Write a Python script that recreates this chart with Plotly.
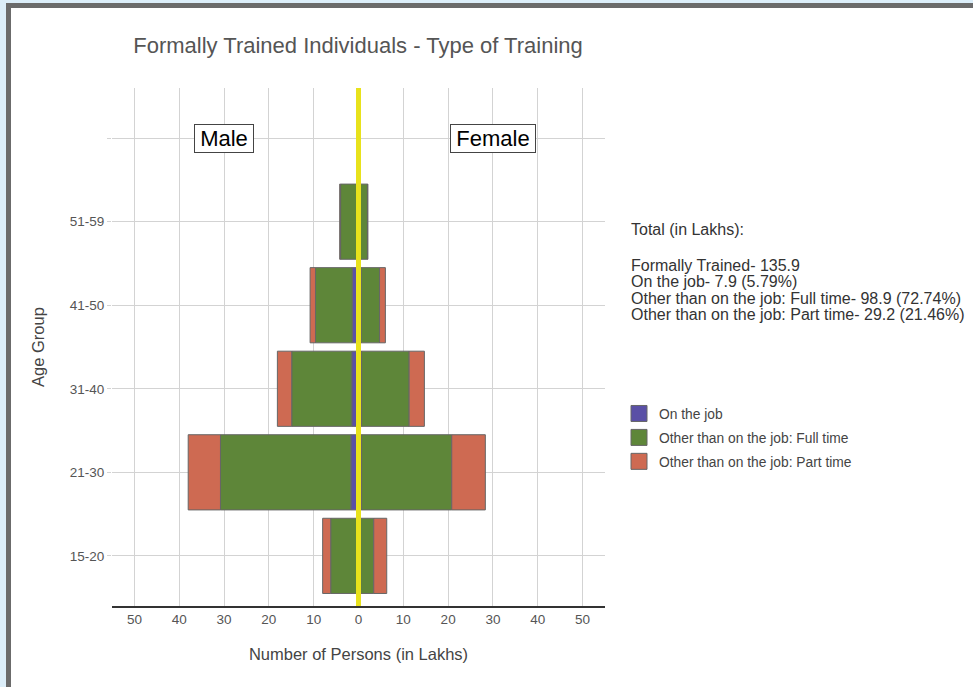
import plotly.graph_objects as go

# ---------------- data ----------------
age_groups = ["15-20", "21-30", "31-40", "41-50", "51-59"]
top_blank = " "

male_on_job = [0.3, 1.7, 1.5, 1.4, 0.2]
male_full_time = [5.9, 29.1, 13.4, 8.2, 3.8]
male_part_time = [1.8, 7.2, 3.2, 1.2, 0.2]

female_on_job = [0.5, 0.7, 0.7, 0.6, 0.4]
female_full_time = [2.9, 20.1, 10.6, 4.1, 1.6]
female_part_time = [2.9, 7.5, 3.4, 1.3, 0.1]

series_names = ["On the job", "Other than on the job: Full time", "Other than on the job: Part time"]
series_colors = ["#5A50A6", "#5E8639", "#CE6A52"]

x_tick_values = [-50, -40, -30, -20, -10, 0, 10, 20, 30, 40, 50]
x_tick_labels = ["50", "40", "30", "20", "10", "0", "10", "20", "30", "40", "50"]

summary_lines = [
    "Total (in Lakhs):",
    "Formally Trained- 135.9",
    "On the job- 7.9 (5.79%)",
    "Other than on the job: Full time- 98.9 (72.74%)",
    "Other than on the job: Part time- 29.2 (21.46%)",
]

# ---------------- layout geometry ----------------
W, H = 973, 687
ML, MR, MT, MB = 112, 368, 88, 81
PW, PH = W - ML - MR, H - MT - MB


def px_x(px):
    return (px - ML) / PW


def px_y(py):
    return (H - MB - py) / PH


FONT = "Liberation Sans, Arial, sans-serif"

fig = go.Figure()

male_series = [male_on_job, male_full_time, male_part_time]
female_series = [female_on_job, female_full_time, female_part_time]

for i, name in enumerate(series_names):
    fig.add_trace(go.Bar(
        y=age_groups, x=[-v for v in male_series[i]], orientation="h",
        name=name, legendgroup=name, showlegend=False,
        marker=dict(color=series_colors[i], line=dict(color="#666666", width=1)),
        customdata=male_series[i], hovertemplate="Male %{y}: %{customdata}<extra>" + name + "</extra>",
    ))
for i, name in enumerate(series_names):
    fig.add_trace(go.Bar(
        y=age_groups, x=female_series[i], orientation="h",
        name=name, legendgroup=name, showlegend=False,
        marker=dict(color=series_colors[i], line=dict(color="#666666", width=1)),
        hovertemplate="Female %{y}: %{x}<extra>" + name + "</extra>",
    ))
# legend entries (large square swatches)
for i, name in enumerate(series_names):
    fig.add_trace(go.Scatter(
        x=[None], y=[None], mode="markers", name=name, legendgroup=name,
        marker=dict(symbol="square", size=20, color=series_colors[i], line=dict(color="#666666", width=1)),
    ))

shapes = [
    # zero line
    dict(type="line", xref="x", yref="paper", x0=0, x1=0, y0=0, y1=1,
         line=dict(color="#E8E21C", width=5), layer="above"),
    # screenshot frame
    dict(type="rect", xref="paper", yref="paper", x0=px_x(0), x1=px_x(6), y0=px_y(H), y1=px_y(0),
         fillcolor="#DCEEF9", line=dict(width=0), layer="above"),
    dict(type="rect", xref="paper", yref="paper", x0=px_x(0), x1=px_x(W), y0=px_y(3), y1=px_y(0),
         fillcolor="#DCEEF9", line=dict(width=0), layer="above"),
    dict(type="rect", xref="paper", yref="paper", x0=px_x(6), x1=px_x(11), y0=px_y(H), y1=px_y(3),
         fillcolor="#6B6B6B", line=dict(width=0), layer="above"),
    dict(type="rect", xref="paper", yref="paper", x0=px_x(6), x1=px_x(W), y0=px_y(8), y1=px_y(3),
         fillcolor="#6B6B6B", line=dict(width=0), layer="above"),
]

annotations = [
    dict(x=-30, y=top_blank, xref="x", yref="y", text="Male", showarrow=False, width=56,
         font=dict(family=FONT, size=22, color="#000000"), bgcolor="#FFFFFF",
         bordercolor="#444444", borderwidth=1, borderpad=1),
    dict(x=30, y=top_blank, xref="x", yref="y", text="Female", showarrow=False, width=82,
         font=dict(family=FONT, size=22, color="#000000"), bgcolor="#FFFFFF",
         bordercolor="#444444", borderwidth=1, borderpad=1),
]
summary_y = [229, 265, 281.6, 298.2, 314.8]
for txt, yy in zip(summary_lines, summary_y):
    annotations.append(dict(x=px_x(629), y=px_y(yy), xref="paper", yref="paper", text=txt,
                            showarrow=False, xanchor="left", yanchor="middle",
                            font=dict(family=FONT, size=16, color="#333333")))

fig.update_layout(
    width=W, height=H,
    margin=dict(l=ML, r=MR, t=MT, b=MB),
    paper_bgcolor="#FFFFFF", plot_bgcolor="#FFFFFF",
    barmode="relative", bargap=0.1,
    title=dict(text="Formally Trained Individuals - Type of Training",
               x=px_x(358), xref="paper", xanchor="center", y=1 - 45 / H, yanchor="middle",
               font=dict(family=FONT, size=22, color="#555555")),
    xaxis=dict(range=[-55, 55], tickvals=x_tick_values, ticktext=x_tick_labels,
               showgrid=True, gridcolor="#D3D3D3", gridwidth=1, zeroline=False,
               showline=True, linecolor="#333333", linewidth=2,
               ticks="", tickfont=dict(family=FONT, size=13.5, color="#555555"),
               title=dict(text="Number of Persons (in Lakhs)", standoff=22,
                          font=dict(family=FONT, size=16.5, color="#444444")),
               fixedrange=True),
    yaxis=dict(type="category", categoryorder="array", categoryarray=age_groups + [top_blank],
               range=[-0.6, 5.6], showgrid=True, gridcolor="#D3D3D3", gridwidth=1,
               zeroline=False, showline=False, ticks="outside", ticklen=4, tickcolor="#D3D3D3",
               tickfont=dict(family=FONT, size=13.5, color="#555555"),
               title=dict(text="Age Group", standoff=20, font=dict(family=FONT, size=16.5, color="#444444")),
               fixedrange=True),
    legend=dict(x=px_x(619), y=px_y(398), xanchor="left", yanchor="top",
                font=dict(family=FONT, size=13.8, color="#444444"),
                tracegroupgap=3, itemsizing="trace", bgcolor="rgba(0,0,0,0)"),
    shapes=shapes,
    annotations=annotations,
    showlegend=True,
    hovermode="closest",
)

fig.write_html("out.html", config={"displayModeBar": False},
               post_script="document.body.style.margin='0px';")
